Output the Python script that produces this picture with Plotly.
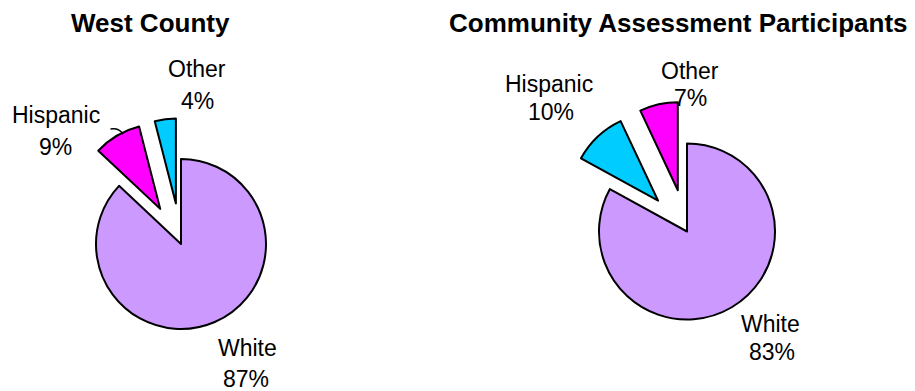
import plotly.graph_objects as go

# ---- data ----
west_labels = ["White", "Hispanic", "Other"]
west_values = [87, 9, 4]
west_colors = ["#CC99FF", "#FF00FF", "#00CCFF"]

part_labels = ["White", "Hispanic", "Other"]
part_values = [83, 10, 7]
part_colors = ["#CC99FF", "#00CCFF", "#FF00FF"]

pulls = [0, 0.48, 0.48]

titles = ["West County", "Community Assessment Participants"]

W, H = 915, 391

def px(x):
    return x / W

def py(y):
    return 1 - y / H

fig = go.Figure()

# left pie: centre (181,244) r=85 ; right pie: centre (687,231.5) r=88
def domain(cx, cy, r, pull):
    half = r * (1 + pull)
    return dict(x=[px(cx - half), px(cx + half)], y=[py(cy + half), py(cy - half)])

fig.add_trace(go.Pie(
    labels=west_labels, values=west_values, sort=False, direction="clockwise",
    rotation=0, pull=pulls, textinfo="none", hoverinfo="label+percent",
    marker=dict(colors=west_colors, line=dict(color="black", width=2)),
    domain=domain(181, 244, 85, 0.48), showlegend=False,
))
fig.add_trace(go.Pie(
    labels=part_labels, values=part_values, sort=False, direction="clockwise",
    rotation=0, pull=pulls, textinfo="none", hoverinfo="label+percent",
    marker=dict(colors=part_colors, line=dict(color="black", width=2)),
    domain=domain(687, 231.5, 88, 0.48), showlegend=False,
))

FONT = "Arial, Liberation Sans, sans-serif"
annotations = []

# titles (centre x, middle y in px)
for t, (x, y) in zip(titles, [(150.5, 23), (678, 23)]):
    annotations.append(dict(text="<b>%s</b>" % t, x=px(x), y=py(y), xref="paper", yref="paper",
                            xanchor="center", yanchor="middle", showarrow=False,
                            font=dict(family=FONT, size=26, color="black")))

# slice labels: (name pos, pct pos) in px, middle of text
west_pos = {
    "White": ((248, 347.7), (246, 378.7)),
    "Hispanic": ((56, 114.7), (55, 146.7)),
    "Other": ((197, 68.7), (197, 100.7)),
}
part_pos = {
    "White": ((770, 324.4), (772, 351.7)),
    "Hispanic": ((549, 84.4), (551, 111.7)),
    "Other": ((690, 70.7), (690.3, 97.7)),
}
for labels, values, pos in [(west_labels, west_values, west_pos), (part_labels, part_values, part_pos)]:
    total = sum(values)
    for lab, v in zip(labels, values):
        (nx, ny), (vx, vy) = pos[lab]
        pct = round(100 * v / total)
        for txt, x, y in [(lab, nx, ny), ("%d%%" % pct, vx, vy)]:
            annotations.append(dict(text=txt, x=px(x), y=py(y), xref="paper", yref="paper",
                                    xanchor="center", yanchor="middle", showarrow=False,
                                    font=dict(family=FONT, size=23, color="black")))

# leader line for West County Hispanic label
shapes = [dict(type="path", xref="paper", yref="paper",
               path="M %f,%f Q %f,%f %f,%f" % (px(110.5), py(129), px(119), py(127.5), px(123), py(134)),
               line=dict(color="black", width=1.5))]

fig.update_layout(
    width=W, height=H, margin=dict(l=0, r=0, t=0, b=0),
    paper_bgcolor="white", plot_bgcolor="white",
    annotations=annotations, shapes=shapes,
)

fig.write_html("out.html")
